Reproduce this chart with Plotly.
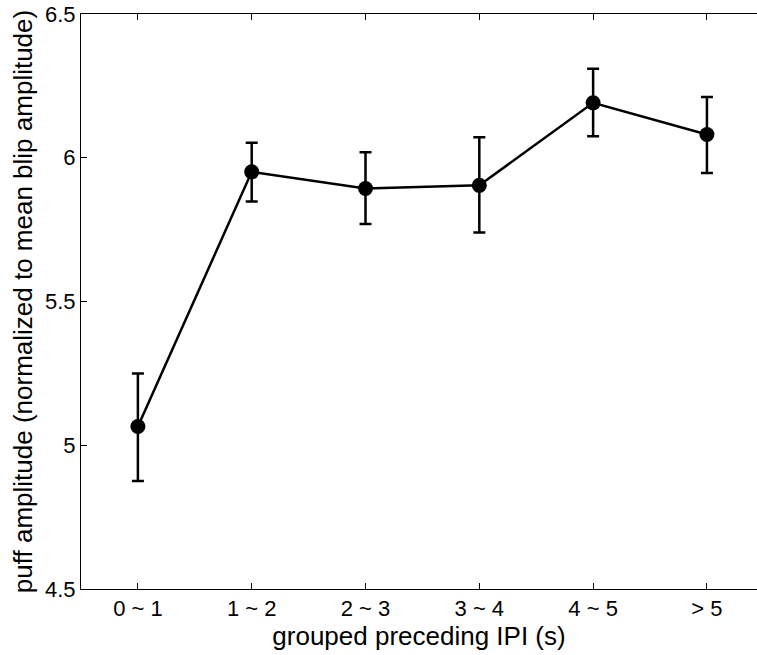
import plotly.graph_objects as go

# Groups of preceding inter-puff interval
groups = ["0 ~ 1", "1 ~ 2", "2 ~ 3", "3 ~ 4", "4 ~ 5", "> 5"]
# Mean puff amplitude (normalized to mean blip amplitude)
amp_mean = [5.065, 5.951, 5.893, 5.904, 6.191, 6.081]
# Error bar extents above / below the mean
err_plus = [0.185, 0.101, 0.126, 0.167, 0.119, 0.130]
err_minus = [0.189, 0.103, 0.123, 0.164, 0.116, 0.134]

y_ticks = [4.5, 5, 5.5, 6, 6.5]
y_tick_text = ["4.5", "5", "5.5", "6", "6.5"]

positions = list(range(1, len(groups) + 1))

fig = go.Figure()
fig.add_trace(go.Scatter(
    x=positions,
    y=amp_mean,
    mode="lines+markers",
    line=dict(color="black", width=2.5),
    marker=dict(color="black", size=15),
    error_y=dict(
        type="data",
        symmetric=False,
        array=err_plus,
        arrayminus=err_minus,
        color="black",
        thickness=2.5,
        width=6,
    ),
    showlegend=False,
))

font_family = "Liberation Sans, Arial, Helvetica, sans-serif"

fig.update_layout(
    width=757,
    height=655,
    margin=dict(l=81, r=0, t=14, b=66),
    paper_bgcolor="white",
    plot_bgcolor="white",
    font=dict(family=font_family, color="black", size=22),
    xaxis=dict(
        range=[0.5, 6.44],
        tickvals=positions,
        ticktext=groups,
        ticks="inside",
        ticklen=6,
        tickwidth=1,
        tickcolor="black",
        showline=True,
        linecolor="black",
        linewidth=1,
        mirror="ticks",
        showgrid=False,
        zeroline=False,
        tickfont=dict(size=22),
        title=dict(text="grouped preceding IPI (s)", font=dict(size=26), standoff=2),
    ),
    yaxis=dict(
        range=[4.5, 6.5],
        tickvals=y_ticks,
        ticktext=y_tick_text,
        ticks="inside",
        ticklen=6,
        tickwidth=1,
        tickcolor="black",
        showline=True,
        linecolor="black",
        linewidth=1,
        showgrid=False,
        zeroline=False,
        tickfont=dict(size=22),
        title=dict(text="puff amplitude (normalized to mean blip amplitude)",
                   font=dict(size=26), standoff=4),
    ),
)

fig.write_html("out.html")
